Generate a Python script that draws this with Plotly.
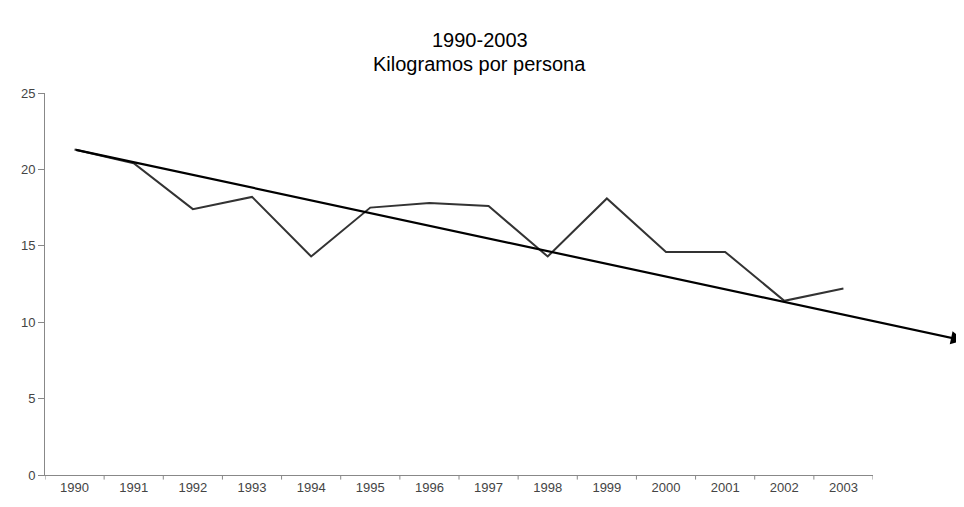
import plotly.graph_objects as go

years = ["1990", "1991", "1992", "1993", "1994", "1995", "1996",
         "1997", "1998", "1999", "2000", "2001", "2002", "2003"]
kg_persona = [21.3, 20.4, 17.4, 18.2, 14.3, 17.5, 17.8,
              17.6, 14.3, 18.1, 14.6, 14.6, 11.4, 12.2]

title_lines = ["1990-2003", "Kilogramos por persona"]

# trend arrow: from first value to beyond the last year
trend_start = (0, 21.3)
trend_end = (15.04, 8.8)

fig = go.Figure()
fig.add_trace(go.Scatter(
    x=list(range(len(years))), y=kg_persona,
    mode="lines",
    line=dict(color="#333333", width=2),
    showlegend=False,
))

fig.add_annotation(
    x=trend_end[0], y=trend_end[1],
    ax=trend_start[0], ay=trend_start[1],
    xref="x", yref="y", axref="x", ayref="y",
    text="", showarrow=True,
    arrowhead=2, arrowsize=1.2, arrowwidth=2.2, arrowcolor="black",
)

# two title lines as annotations to control line spacing
for txt, ypos in zip(title_lines, [1.14, 1.076]):
    fig.add_annotation(
        text=txt, xref="paper", yref="paper", x=0.525, y=ypos,
        xanchor="center", yanchor="middle", showarrow=False,
        font=dict(family="Liberation Sans, Arial", size=20, color="black"),
    )

fig.update_layout(
    width=956, height=499,
    margin=dict(l=37, r=91, t=85, b=30),
    plot_bgcolor="white", paper_bgcolor="white",
    font=dict(family="Liberation Sans, Arial", size=13, color="#444444"),
)

fig.update_xaxes(
    tickmode="array", tickvals=list(range(len(years))), ticktext=years,
    range=[-0.5, 13.5],
    showline=True, linecolor="#888888", linewidth=1,
    showgrid=False, zeroline=False,
    ticks="",
)
fig.update_yaxes(
    range=[0, 25], dtick=5,
    showline=True, linecolor="#888888", linewidth=1,
    showgrid=False, zeroline=False,
    ticks="outside", ticklen=6, tickcolor="#888888",
)

# boundary ticks between categories on x axis
for i in range(len(years) + 1):
    fig.add_shape(type="line", xref="x", yref="paper",
                  x0=i - 0.5, x1=i - 0.5, y0=0, y1=-0.012,
                  line=dict(color="#888888", width=1))

fig.write_html("out.html")
